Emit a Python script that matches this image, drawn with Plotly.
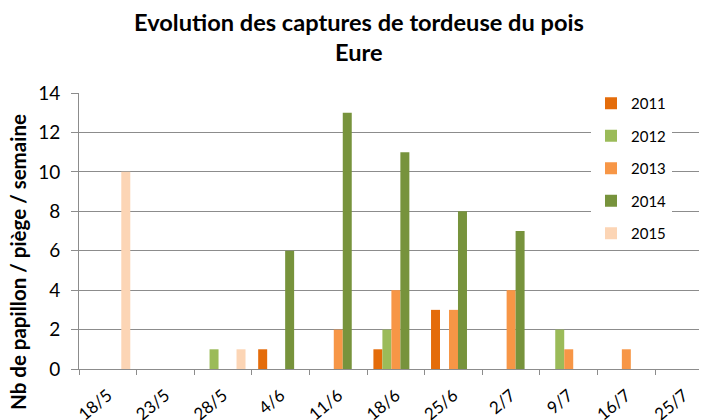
import plotly.graph_objects as go

categories = ["18/5", "23/5", "28/5", "4/6", "11/6", "18/6", "25/6", "2/7", "9/7", "16/7", "25/7"]
years = ["2011", "2012", "2013", "2014", "2015"]
v2011 = [0, 0, 0, 1, 0, 1, 3, 0, 0, 0, 0]
v2012 = [0, 0, 1, 0, 0, 2, 0, 0, 2, 0, 0]
v2013 = [0, 0, 0, 0, 2, 4, 3, 4, 1, 1, 0]
v2014 = [0, 0, 0, 6, 13, 11, 8, 7, 0, 0, 0]
v2015 = [10, 0, 1, 0, 0, 0, 0, 0, 0, 0, 0]
series = [v2011, v2012, v2013, v2014, v2015]
colors = ["#E46C0A", "#9BBB59", "#F79646", "#77933C", "#FCD5B5"]
title_lines = ["Evolution des captures de tordeuse du pois", "Eure"]
y_title = "Nb de papillon / piège / semaine"

FONT = "Lato"
GRID = "#8C8C8C"
OFF = 8                       # default page body margin
W, H = 707 - OFF, 420 - OFF
L, T = 79 - OFF, 93 - OFF     # plot area in figure coordinates
B = H - (369 - OFF)
PW, PH = W - L, H - T - B


def px_x(sx):
    return (sx - OFF - L) / PW


def px_y(sy):
    return (H - B - (sy - OFF)) / PH


fig = go.Figure()
for y, vals, c in zip(years, series, colors):
    fig.add_trace(go.Bar(name=y, x=categories, y=vals, marker=dict(color=c, line=dict(width=0)),
                         legendgroup=y))

annotations = [
    dict(text="<b>%s</b>" % title_lines[0], x=px_x(359), y=px_y(22), xref="paper", yref="paper",
         xanchor="center", yanchor="middle", showarrow=False,
         font=dict(family=FONT, size=23.6, color="#000000")),
    dict(text="<b>%s</b>" % title_lines[1], x=px_x(359), y=px_y(52), xref="paper", yref="paper",
         xanchor="center", yanchor="middle", showarrow=False,
         font=dict(family=FONT, size=23.6, color="#000000")),
    dict(text="<b>%s</b>" % y_title, x=px_x(18), y=px_y(262), xref="paper", yref="paper",
         xanchor="center", yanchor="middle", showarrow=False, textangle=-90,
         font=dict(family=FONT, size=20.5, color="#000000")),
]

fig.update_layout(
    width=W, height=H,
    margin=dict(l=L, r=0, t=T, b=B, autoexpand=False),
    paper_bgcolor="white", plot_bgcolor="white",
    font=dict(family=FONT, color="#000000"),
    barmode="group", bargap=0.22, bargroupgap=0,
    annotations=annotations,
    legend=dict(x=px_x(591), xanchor="left", y=px_y(87), yanchor="top",
                bgcolor="white", font=dict(family=FONT, size=15, color="#000000"),
                traceorder="grouped", tracegroupgap=10, itemwidth=30),
    showlegend=True,
)
fig.update_xaxes(type="category", range=[-0.5, 10.4], tickson="boundaries",
                 ticks="outside", ticklen=5, tickcolor=GRID, tickwidth=1,
                 showline=True, linecolor=GRID, linewidth=1, automargin=False,
                 tickangle=-40, tickfont=dict(family=FONT, size=17, color="#000000"),
                 ticklabelstandoff=9, showgrid=False)
fig.update_yaxes(range=[0, 14], dtick=2, showgrid=True, gridcolor=GRID, gridwidth=1,
                 ticks="outside", ticklen=7, tickcolor=GRID, automargin=False,
                 showline=True, linecolor=GRID, linewidth=1,
                 tickfont=dict(family=FONT, size=19, color="#000000"),
                 ticklabelstandoff=7, zeroline=False)

fig.write_html("out.html")
